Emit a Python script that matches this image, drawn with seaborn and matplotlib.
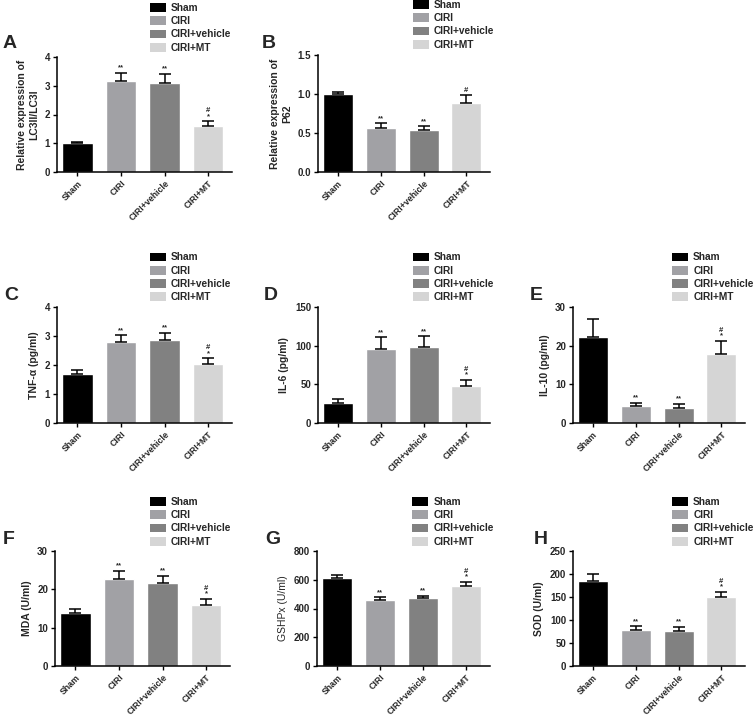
import matplotlib
matplotlib.use("Agg")
import matplotlib.pyplot as plt
from matplotlib.patches import Patch
import numpy as np
import pandas as pd
import seaborn as sns

sns.set_style("ticks")
plt.rcParams["font.family"] = ["Liberation Sans", "DejaVu Sans"]
plt.rcParams["font.weight"] = "bold"
plt.rcParams["axes.labelweight"] = "bold"

groups = ["Sham", "CIRI", "CIRI+vehicle", "CIRI+MT"]
colors = ["#000000", "#a1a1a5", "#818181", "#d5d5d5"]

# panel values (mean, upper error)
lc3_mean = [1.02, 3.15, 3.10, 1.60]
lc3_err = [0.04, 0.30, 0.32, 0.16]
p62_mean = [1.00, 0.565, 0.535, 0.89]
p62_err = [0.03, 0.06, 0.05, 0.095]
tnf_mean = [1.68, 2.78, 2.85, 2.05]
tnf_err = [0.14, 0.24, 0.25, 0.18]
il6_mean = [26, 96, 98, 47.5]
il6_err = [4.5, 15, 14, 8]
il10_mean = [22.3, 4.3, 4.0, 17.9]
il10_err = [4.6, 0.9, 0.9, 3.4]
mda_mean = [13.7, 22.8, 21.6, 16.0]
mda_err = [1.2, 2.0, 1.9, 1.5]
gshpx_mean = [611, 461, 473, 558]
gshpx_err = [25, 18, 16, 26]
sod_mean = [185, 78.5, 77, 151]
sod_err = [15, 8, 8, 10]

stars = ["", "**", "**", "#\n*"]
stars_b = ["", "**", "**", "#"]

panels = [
    # letter, mean, err, ylabel, yticks, marks, ticklabel fmt
    ("A", lc3_mean, lc3_err, "Relative expression of\nLC3II/LC3I", [0, 1, 2, 3, 4], stars, "{:.0f}"),
    ("B", p62_mean, p62_err, "Relative expression of\nP62", [0, 0.5, 1.0, 1.5], stars_b, "{:.1f}"),
    ("C", tnf_mean, tnf_err, "TNF-α (pg/ml)", [0, 1, 2, 3, 4], stars, "{:.0f}"),
    ("D", il6_mean, il6_err, "IL-6 (pg/ml)", [0, 50, 100, 150], stars, "{:.0f}"),
    ("E", il10_mean, il10_err, "IL-10 (pg/ml)", [0, 10, 20, 30], stars, "{:.0f}"),
    ("F", mda_mean, mda_err, "MDA (U/ml)", [0, 10, 20, 30], stars, "{:.0f}"),
    ("G", gshpx_mean, gshpx_err, "GSHPx (U/ml)", [0, 200, 400, 600, 800], stars, "{:.0f}"),
    ("H", sod_mean, sod_err, "SOD (U/ml)", [0, 50, 100, 150, 200, 250], stars, "{:.0f}"),
]

W, H = 753, 719
# axes boxes in pixels: left, top, right, bottom
boxes = {
    "A": (57, 57, 232, 172), "B": (318, 55, 490, 172),
    "C": (57, 307, 232, 423), "D": (318, 307, 490, 423), "E": (573, 307, 745, 423),
    "F": (55, 551, 230, 666), "G": (317, 551, 490, 666), "H": (573, 551, 745, 666),
}
letter_pos = {
    "A": (3, 43), "B": (262, 43), "C": (4, 295), "D": (264, 295), "E": (530, 295),
    "F": (3, 539), "G": (265, 539), "H": (534, 539),
}
legend_x = {"A": 0.53, "C": 0.53, "F": 0.54, "B": 0.55, "D": 0.55, "G": 0.55,
            "E": 0.575, "H": 0.575}

fig = plt.figure(figsize=(W / 100, H / 100), dpi=100)

for letter, mean, err, ylabel, yticks, marks, fmt in panels:
    l, t, r, b = boxes[letter]
    ax = fig.add_axes([l / W, 1 - b / H, (r - l) / W, (b - t) / H])
    df = pd.DataFrame({"group": groups, "value": mean})
    sns.barplot(data=df, x="group", y="value", hue="group", palette=colors,
                width=0.7, saturation=1, legend=False, ax=ax)
    x = np.arange(len(groups))
    ax.errorbar(x, mean, yerr=[np.zeros(len(err)), err], fmt="none",
                ecolor="black", elinewidth=1.1, capsize=4.5, capthick=1.1)
    for xi, m, e, s in zip(x, mean, err, marks):
        if s:
            ax.annotate(s, (xi, m + e), xytext=(0, 1), textcoords="offset points",
                        ha="center", va="bottom", fontsize=5.5, linespacing=0.75)
    ax.set_xlim(-0.47, 3.55)
    ax.set_ylim(0, yticks[-1])
    ax.set_yticks(yticks)
    ax.set_yticklabels([fmt.format(v) for v in yticks], fontsize=7, fontweight="bold")
    ax.set_xticks(x)
    ax.set_xticklabels(groups, rotation=45, ha="right", rotation_mode="anchor",
                       fontsize=6.3, fontweight="bold")
    ax.set_xlabel("")
    weight = "normal" if letter == "G" else "bold"
    ax.set_ylabel(ylabel, fontsize=7.5, fontweight=weight, labelpad=4)
    ax.tick_params(axis="both", length=3, width=1, pad=2, color="black")
    sns.despine(ax=ax)
    for sp in ("left", "bottom"):
        ax.spines[sp].set_linewidth(1.1)
        ax.spines[sp].set_color("black")

    handles = [Patch(facecolor=c, edgecolor="none") for c in colors]
    ax.legend(handles, groups, loc="upper left", frameon=False,
              bbox_to_anchor=(legend_x[letter], 1.47), prop={"size": 7.3, "weight": "bold"},
              handlelength=1.6, handleheight=0.95, handletextpad=0.5,
              labelspacing=0.32, borderaxespad=0, borderpad=0)

    lx, ly = letter_pos[letter]
    fig.text(lx / W, 1 - ly / H, letter, fontsize=14, fontweight="bold",
             ha="left", va="center")

fig.savefig("out.png", dpi=100)
